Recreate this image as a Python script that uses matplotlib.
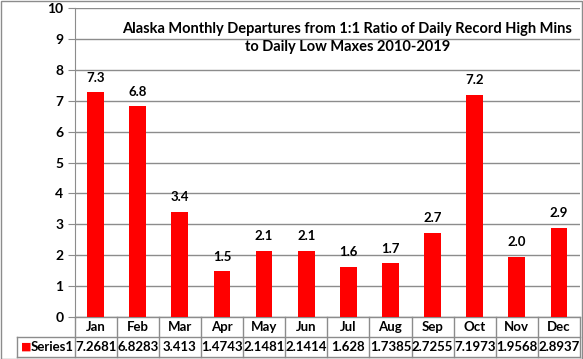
import matplotlib.pyplot as plt
from matplotlib.patches import Rectangle

months = ['Jan', 'Feb', 'Mar', 'Apr', 'May', 'Jun',
          'Jul', 'Aug', 'Sep', 'Oct', 'Nov', 'Dec']
series1 = [7.2681, 6.8283, 3.413, 1.4743, 2.1481, 2.1414,
           1.628, 1.7385, 2.7255, 7.1973, 1.9568, 2.8937]
table_text = ['7.2681', '6.8283', '3.413', '1.4743', '2.1481', '2.1414',
              '1.628', '1.7385', '2.7255', '7.1973', '1.9568', '2.8937']
series_name = 'Series1'
title = ('Alaska Monthly Departures from 1:1 Ratio of Daily Record High Mins\n'
         'to Daily Low Maxes 2010-2019')

plt.rcParams['font.family'] = ['Lato', 'DejaVu Sans']
grid_c = '#8c8c8c'

W, H = 583, 359
fig = plt.figure(figsize=(W / 100, H / 100), dpi=100)
# 图表外框
fig.patches.append(Rectangle((0.5 / W, 0.5 / H), 1 - 1.5 / W, 1 - 1.5 / H,
                             transform=fig.transFigure, fill=False,
                             edgecolor=grid_c, lw=1))

left, right, top, bottom = 74.5, 580, 8, 317
ax = fig.add_axes([left / W, 1 - bottom / H, (right - left) / W, (bottom - top) / H])

x = range(len(months))
ax.bar(x, series1, width=0.4, color='#ff0000', zorder=3)
for i, v in zip(x, series1):
    ax.annotate(f'{v:.1f}', (i, v), xytext=(0, 6), textcoords='offset points',
                ha='center', va='bottom', fontsize=9.5, fontweight='bold')

ax.set_xlim(-0.5, len(months) - 0.5)
ax.set_ylim(0, 10)
ax.set_yticks(range(0, 11))
ax.yaxis.grid(True, color=grid_c, lw=1, zorder=0)
ax.set_xticks([])
for s in ['top', 'right', 'bottom']:
    ax.spines[s].set_visible(False)
ax.spines['left'].set_color(grid_c)
ax.tick_params(axis='y', length=5, color=grid_c, direction='out', pad=3,
               labelsize=10)
for lab in ax.get_yticklabels():
    lab.set_fontweight('bold')

ax.text(0.54, 0.955, title, transform=ax.transAxes, ha='center', va='top',
        fontsize=10.5, fontweight='bold', linespacing=1.35)

# 底部数据表
tr = ax.get_xaxis_transform()
row1 = -(337 - bottom) / (bottom - top)
row2 = -(357 - bottom) / (bottom - top)
lkw = dict(transform=tr, color=grid_c, lw=1, clip_on=False)
ax.plot([-0.5, len(months) - 0.5], [0, 0], **lkw)
label_left = -0.5 - (left - 17) / ((right - left) / len(months))
ax.plot([label_left, len(months) - 0.5], [row1, row1], **lkw)
ax.plot([label_left, len(months) - 0.5], [row2, row2], **lkw)
ax.plot([label_left, label_left], [row1, row2], **lkw)
for i in range(len(months) + 1):
    ax.plot([i - 0.5, i - 0.5], [0, row2], **lkw)
for i, (m, t) in enumerate(zip(months, table_text)):
    ax.text(i, row1 / 2, m, transform=tr, ha='center', va='center',
            fontsize=9.5, fontweight='bold')
    ax.text(i, (row1 + row2) / 2, t, transform=tr, ha='center', va='center',
            fontsize=9.5, fontweight='bold')
ax.text(label_left + 0.1, (row1 + row2) / 2, '\u25a0', transform=tr,
        ha='left', va='center', color='#ff0000', fontsize=8,
        family='DejaVu Sans')
ax.text(label_left + 0.32, (row1 + row2) / 2, series_name, transform=tr,
        ha='left', va='center', fontsize=9.5, fontweight='bold')

fig.savefig('out.png', dpi=100)
